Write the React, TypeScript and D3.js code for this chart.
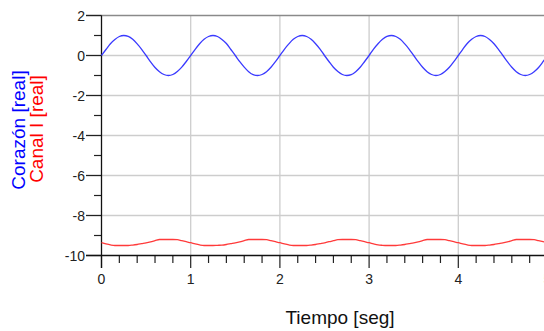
import { useEffect, useRef } from "react";
import * as d3 from "d3";

const WIDTH = 544;
const HEIGHT = 331;

// sample times, seconds
const TIEMPO = [
  0, 0.05, 0.1, 0.15, 0.2, 0.25, 0.3, 0.35, 0.4, 0.45, 0.5, 0.55, 0.6, 0.65, 0.7, 0.75, 0.8, 0.85, 0.9, 0.95,
  1, 1.05, 1.1, 1.15, 1.2, 1.25, 1.3, 1.35, 1.4, 1.45, 1.5, 1.55, 1.6, 1.65, 1.7, 1.75, 1.8, 1.85, 1.9, 1.95,
  2, 2.05, 2.1, 2.15, 2.2, 2.25, 2.3, 2.35, 2.4, 2.45, 2.5, 2.55, 2.6, 2.65, 2.7, 2.75, 2.8, 2.85, 2.9, 2.95,
  3, 3.05, 3.1, 3.15, 3.2, 3.25, 3.3, 3.35, 3.4, 3.45, 3.5, 3.55, 3.6, 3.65, 3.7, 3.75, 3.8, 3.85, 3.9, 3.95,
  4, 4.05, 4.1, 4.15, 4.2, 4.25, 4.3, 4.35, 4.4, 4.45, 4.5, 4.55, 4.6, 4.65, 4.7, 4.75, 4.8, 4.85, 4.9, 4.95,
  5,
];

const CORAZON = [
  0, 0.3, 0.59, 0.8, 0.95, 1, 0.96, 0.81, 0.58, 0.31, 0, -0.32, -0.6, -0.81, -0.95, -1, -0.95, -0.8, -0.58, -0.3,
  0, 0.31, 0.59, 0.81, 0.95, 1, 0.95, 0.8, 0.6, 0.3, 0, -0.31, -0.58, -0.81, -0.96, -1, -0.95, -0.81, -0.59, -0.31,
  0, 0.31, 0.58, 0.81, 0.95, 1, 0.95, 0.81, 0.59, 0.32, 0, -0.3, -0.59, -0.8, -0.95, -1, -0.96, -0.81, -0.59, -0.3,
  0, 0.32, 0.59, 0.81, 0.96, 1, 0.95, 0.81, 0.58, 0.31, 0, -0.31, -0.59, -0.81, -0.95, -1, -0.95, -0.8, -0.59, -0.31,
  0, 0.31, 0.6, 0.81, 0.95, 1, 0.95, 0.8, 0.59, 0.31, 0, -0.31, -0.59, -0.81, -0.95, -1, -0.95, -0.81, -0.6, -0.31,
  0,
];

const CANAL_I = [
  -9.36, -9.42, -9.47, -9.5, -9.5, -9.5, -9.5, -9.48, -9.45, -9.41, -9.37, -9.32, -9.26, -9.2, -9.2, -9.2, -9.2, -9.21, -9.26, -9.31,
  -9.36, -9.42, -9.47, -9.5, -9.5, -9.5, -9.49, -9.48, -9.45, -9.41, -9.37, -9.32, -9.26, -9.2, -9.2, -9.2, -9.2, -9.21, -9.26, -9.31,
  -9.36, -9.42, -9.47, -9.5, -9.5, -9.5, -9.5, -9.48, -9.45, -9.41, -9.37, -9.31, -9.26, -9.21, -9.2, -9.2, -9.2, -9.21, -9.26, -9.31,
  -9.36, -9.42, -9.47, -9.49, -9.5, -9.5, -9.5, -9.48, -9.45, -9.41, -9.37, -9.32, -9.26, -9.2, -9.2, -9.2, -9.2, -9.21, -9.26, -9.31,
  -9.36, -9.42, -9.47, -9.5, -9.5, -9.5, -9.5, -9.48, -9.45, -9.41, -9.37, -9.32, -9.26, -9.2, -9.2, -9.2, -9.2, -9.21, -9.26, -9.31,
  -9.36,
];

const X_TICKS = [0, 1, 2, 3, 4, 5];
const Y_TICKS = [2, 0, -2, -4, -6, -8, -10];

export default function App() {
  const svgRef = useRef<SVGSVGElement>(null);

  useEffect(() => {
    if (!svgRef.current) return;
    const svg = d3.select(svgRef.current);
    svg.selectAll("*").remove();

    const font = "Arial, 'Liberation Sans', sans-serif";
    const x = d3.scaleLinear().domain([0, 5]).range([101.5, 547.5]);
    const y = d3.scaleLinear().domain([-10, 2]).range([255.5, 15.5]);

    const gridColor = "#cdcdcd";

    // horizontal grid
    svg
      .selectAll(".hgrid")
      .data(Y_TICKS.filter((d) => d !== 2 && d !== -10))
      .join("line")
      .attr("x1", 86)
      .attr("x2", WIDTH)
      .attr("y1", (d) => y(d))
      .attr("y2", (d) => y(d))
      .attr("stroke", gridColor)
      .attr("stroke-width", 1.3);

    // vertical grid
    svg
      .selectAll(".vgrid")
      .data(X_TICKS.filter((d) => d > 0))
      .join("line")
      .attr("x1", (d) => x(d))
      .attr("x2", (d) => x(d))
      .attr("y1", y(2))
      .attr("y2", y(-10))
      .attr("stroke", gridColor)
      .attr("stroke-width", 1.3);

    // top border
    svg
      .append("line")
      .attr("x1", 86)
      .attr("x2", WIDTH)
      .attr("y1", y(2))
      .attr("y2", y(2))
      .attr("stroke", "#8a8a8a")
      .attr("stroke-width", 1.5);

    // y axis ticks
    const yMinor = d3.range(-9, 2, 2);
    svg
      .selectAll(".ymaj")
      .data(Y_TICKS)
      .join("line")
      .attr("x1", 86)
      .attr("x2", x(0))
      .attr("y1", (d) => y(d))
      .attr("y2", (d) => y(d))
      .attr("stroke", "#222")
      .attr("stroke-width", 1.2);
    svg
      .selectAll(".ymin")
      .data(yMinor)
      .join("line")
      .attr("x1", 94)
      .attr("x2", x(0))
      .attr("y1", (d) => y(d))
      .attr("y2", (d) => y(d))
      .attr("stroke", "#222")
      .attr("stroke-width", 1.2);

    svg
      .selectAll(".ylab")
      .data(Y_TICKS)
      .join("text")
      .attr("x", 85)
      .attr("y", (d) => y(d) + 5)
      .attr("text-anchor", "end")
      .attr("fill", "#222")
      .style("font-family", font)
      .style("font-size", "14px")
      .text((d) => String(d));

    // x axis ticks
    const xMinor = d3.range(0, 5.01, 0.2).filter((d) => Math.abs(d - Math.round(d)) > 0.01);
    svg
      .selectAll(".xmaj")
      .data(X_TICKS)
      .join("line")
      .attr("x1", (d) => x(d))
      .attr("x2", (d) => x(d))
      .attr("y1", y(-10))
      .attr("y2", 268)
      .attr("stroke", "#222")
      .attr("stroke-width", 1.2);
    svg
      .selectAll(".xmin")
      .data(xMinor)
      .join("line")
      .attr("x1", (d) => x(d))
      .attr("x2", (d) => x(d))
      .attr("y1", y(-10))
      .attr("y2", 263)
      .attr("stroke", "#222")
      .attr("stroke-width", 1.2);

    svg
      .selectAll(".xlab")
      .data(X_TICKS)
      .join("text")
      .attr("x", (d) => x(d))
      .attr("y", 284)
      .attr("text-anchor", "middle")
      .attr("fill", "#222")
      .style("font-family", font)
      .style("font-size", "14px")
      .text((d) => String(d));

    // axes lines
    svg
      .append("line")
      .attr("x1", x(0))
      .attr("x2", x(0))
      .attr("y1", y(2))
      .attr("y2", 268)
      .attr("stroke", "#111")
      .attr("stroke-width", 1.3);
    svg
      .append("line")
      .attr("x1", 86)
      .attr("x2", WIDTH)
      .attr("y1", y(-10))
      .attr("y2", y(-10))
      .attr("stroke", "#111")
      .attr("stroke-width", 1.3);

    // series
    const line = d3
      .line<number>()
      .x((_, i) => x(TIEMPO[i]))
      .y((d) => y(d))
      .curve(d3.curveMonotoneX);

    svg
      .append("path")
      .datum(CORAZON)
      .attr("d", line)
      .attr("fill", "none")
      .attr("stroke", "#3a3aff")
      .attr("stroke-width", 1.3);

    svg
      .append("path")
      .datum(CANAL_I)
      .attr("d", line)
      .attr("fill", "none")
      .attr("stroke", "#ff3a3a")
      .attr("stroke-width", 1.3);

    // axis titles
    svg
      .append("text")
      .attr("x", 340)
      .attr("y", 324)
      .attr("text-anchor", "middle")
      .attr("fill", "#111")
      .style("font-family", font)
      .style("font-size", "19px")
      .text("Tiempo [seg]");

    svg
      .append("text")
      .attr("transform", "translate(25,130) rotate(-90)")
      .attr("text-anchor", "middle")
      .attr("fill", "#0000ff")
      .style("font-family", font)
      .style("font-size", "19px")
      .text("Corazón [real]");

    svg
      .append("text")
      .attr("transform", "translate(43,129) rotate(-90)")
      .attr("text-anchor", "middle")
      .attr("fill", "#ff0000")
      .style("font-family", font)
      .style("font-size", "19px")
      .text("Canal I [real]");
  }, []);

  return (
    <svg
      ref={svgRef}
      width={WIDTH}
      height={HEIGHT}
      style={{ position: "absolute", left: 0, top: 0, background: "#fff" }}
    />
  );
}
